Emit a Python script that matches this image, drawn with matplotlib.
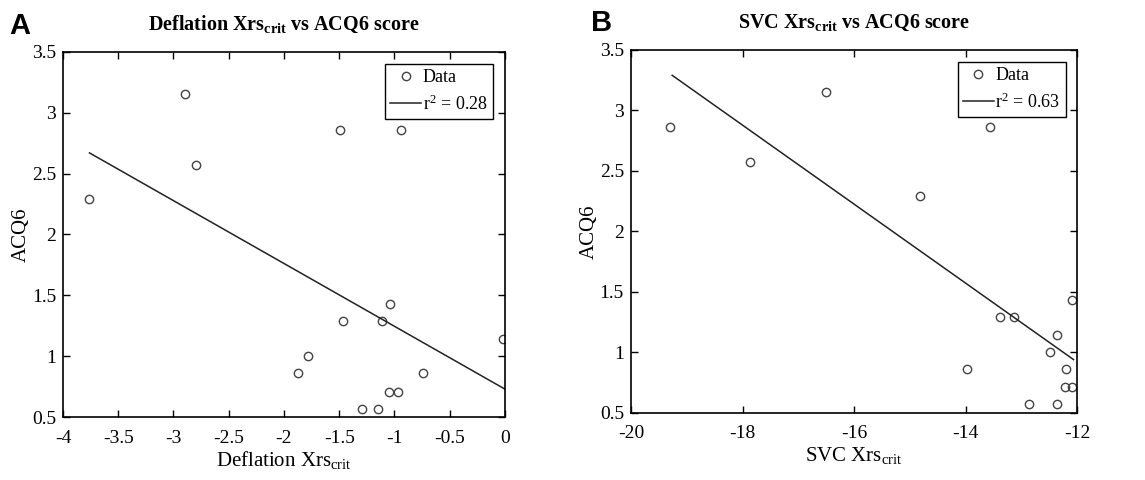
import numpy as np
import matplotlib
matplotlib.use("Agg")
from matplotlib import pyplot as plt
from matplotlib.ticker import FormatStrFormatter, MultipleLocator

plt.rcParams['font.family'] = ['Liberation Serif', 'DejaVu Serif']
plt.rcParams['mathtext.fontset'] = 'custom'
plt.rcParams['mathtext.rm'] = 'Liberation Serif'
plt.rcParams['mathtext.it'] = 'Liberation Serif:italic'
plt.rcParams['mathtext.bf'] = 'Liberation Serif:bold'

# ACQ6 score per subject (same subjects in both panels)
defl_x = [-3.76, -2.90, -2.80, -1.49, -0.94, -1.47, -1.04, -1.11, -0.02,
          -1.78, -1.87, -0.74, -1.05, -0.97, -1.29, -1.15]
defl_y = [2.29, 3.15, 2.57, 2.86, 2.86, 1.29, 1.43, 1.29, 1.14,
          1.00, 0.86, 0.86, 0.71, 0.71, 0.57, 0.57]
defl_fit_x = [-3.76, 0.0]
defl_fit_y = [2.67, 0.73]
defl_r2 = 0.28

svc_x = [-19.30, -17.86, -16.51, -14.82, -13.56, -13.38, -13.13, -12.09,
         -12.37, -12.50, -13.98, -12.21, -12.23, -12.10, -12.86, -12.37]
svc_y = [2.86, 2.57, 3.15, 2.29, 2.86, 1.29, 1.29, 1.43,
         1.14, 1.00, 0.86, 0.86, 0.71, 0.71, 0.57, 0.57]
svc_fit_x = [-19.26, -12.07]
svc_fit_y = [3.29, 0.94]
svc_r2 = 0.63

fig = plt.figure(figsize=(11.45, 4.8), dpi=100)
ax1 = fig.add_axes([0.055, 0.131, 0.386, 0.761])
ax2 = fig.add_axes([0.551, 0.140, 0.390, 0.756])


def panel(ax, x, y, fx, fy, r2, name, xlim, xstep):
    ax.plot(x, y, 'o', mfc='none', mec='#444444', ms=6, mew=1.0, label='Data')
    ax.plot(fx, fy, '-', color='#222222', lw=1.1, label='r$^2$ = %.2f' % r2)
    ax.set_xlim(xlim)
    ax.set_ylim(0.5, 3.5)
    ax.xaxis.set_major_locator(MultipleLocator(xstep))
    ax.yaxis.set_major_locator(MultipleLocator(0.5))
    ax.xaxis.set_major_formatter(FormatStrFormatter('%g'))
    ax.yaxis.set_major_formatter(FormatStrFormatter('%g'))
    ax.tick_params(direction='in', top=True, right=True, labelsize=14,
                   length=5, width=1)
    ax.tick_params(axis='x', pad=9)
    ax.tick_params(axis='y', pad=5)
    for s in ax.spines.values():
        s.set_linewidth(1.2)
    ax.set_xlabel(name + r' Xrs$_{\mathrm{crit}}$', fontsize=15, labelpad=2)
    ax.set_ylabel('ACQ6', fontsize=15, labelpad=1)
    ax.set_title(name + r' Xrs$_{\mathbf{crit}}$ vs ACQ6 score', fontsize=14.5,
                 fontweight='bold', pad=16)
    leg = ax.legend(loc='upper right', fontsize=13, fancybox=False,
                    edgecolor='black', framealpha=1, borderpad=0.3,
                    handlelength=1.7, handletextpad=0.1, labelspacing=0.45,
                    borderaxespad=0.65)
    leg.get_frame().set_linewidth(1.0)


panel(ax1, defl_x, defl_y, defl_fit_x, defl_fit_y, defl_r2, 'Deflation',
      (-4, 0), 0.5)
panel(ax2, svc_x, svc_y, svc_fit_x, svc_fit_y, svc_r2, 'SVC',
      (-20, -12), 2)

fig.text(0.008, 0.946, 'A', fontsize=21, fontweight='bold',
         family='Liberation Sans', va='center')
fig.text(0.516, 0.952, 'B', fontsize=21, fontweight='bold',
         family='Liberation Sans', va='center')

fig.savefig('out.png', dpi=100)
